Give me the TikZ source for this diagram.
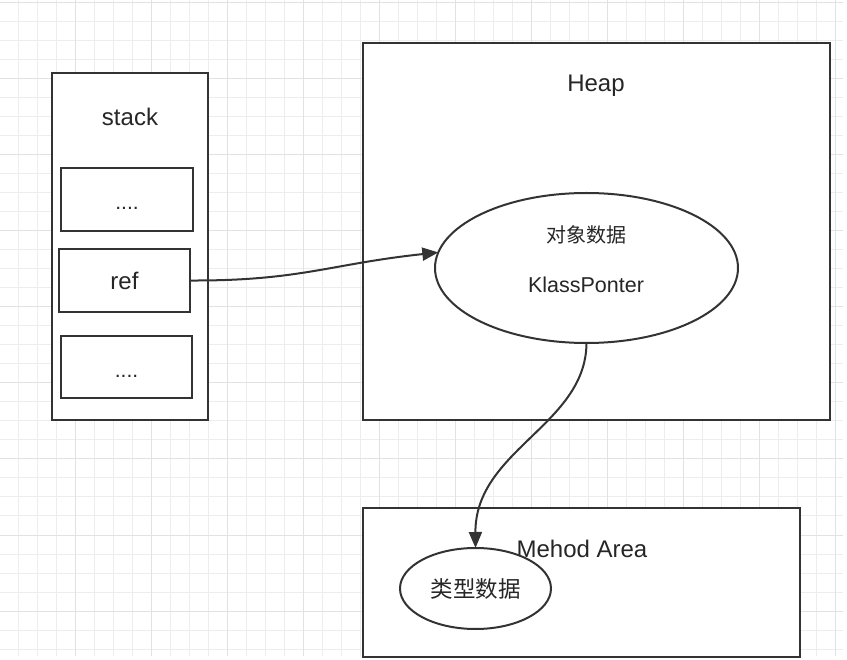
\documentclass[tikz,border=0pt]{standalone}
\usepackage{fontspec}
\setmainfont{Liberation Sans}
\newfontfamily\cjk{Noto Sans CJK SC}
\usetikzlibrary{shapes.geometric,arrows.meta}
\definecolor{ink}{HTML}{333333}
\definecolor{txt}{HTML}{262626}
\definecolor{gridminor}{HTML}{EDEDED}
\definecolor{gridmajor}{HTML}{E2E2E2}
\tikzset{
  box/.style={draw=ink, line width=2.5pt, fill=white, inner sep=0pt, outer sep=0pt},
  oval/.style={ellipse, draw=ink, line width=2pt, fill=white, inner sep=0pt, outer sep=0pt},
  lbl/.style={text=txt, inner sep=0pt, font=\fontsize{24}{28}\selectfont},
  conn/.style={draw=ink, line width=2pt, -{Triangle[length=16pt,width=13pt]}},
}
\begin{document}
\begin{tikzpicture}[x=1pt,y=-1pt]
\useasboundingbox (0,0) rectangle (847,660);
\fill[white] (0,0) rectangle (847,660);
% grid
\foreach \i in {0,...,44} {
  \pgfmathsetmacro\gx{-1+19*\i}
  \draw[gridminor, line width=1pt] (\gx,0) -- (\gx,656);
}
\foreach \i in {0,...,34} {
  \pgfmathsetmacro\gy{3+19*\i}
  \draw[gridminor, line width=1pt] (0,\gy) -- (843,\gy);
}
\foreach \i in {0,...,11} {
  \pgfmathsetmacro\gx{-1+76*\i}
  \draw[gridmajor, line width=1pt] (\gx,0) -- (\gx,656);
}
\foreach \i in {0,...,8} {
  \pgfmathsetmacro\gy{3+76*\i}
  \draw[gridmajor, line width=1pt] (0,\gy) -- (843,\gy);
}
% stack
\node[box, minimum width=156pt, minimum height=347pt] (stack) at (130,246.5) {};
\node[lbl] (stacklbl) at (130,117) {stack};
\node[box, minimum width=132pt, minimum height=63pt] (s1) at (127,199.5) {};
\node[lbl, font=\fontsize{21}{24}\selectfont] (d1) at (127,208) {....};
\node[box, minimum width=131pt, minimum height=63pt, lbl] (ref) at (124.5,280.5) {ref};
\node[box, minimum width=131pt, minimum height=62pt] (s3) at (126.5,367) {};
\node[lbl, font=\fontsize{21}{24}\selectfont] (d3) at (126.5,376) {....};
% heap
\node[box, minimum width=467pt, minimum height=377pt] (heap) at (596.5,231.5) {};
\node[lbl] (heaplbl) at (596,86) {Heap};
\node[oval, minimum width=303pt, minimum height=150pt] (obj) at (586.5,268) {};
\node[lbl, font=\cjk\fontsize{20}{24}\selectfont] (objdata) at (586,235) {对象数据};
\node[lbl, font=\fontsize{21.5}{24}\selectfont] (klass) at (586,285) {KlassPonter};
% method area
\node[box, minimum width=437pt, minimum height=149pt] (method) at (581.5,582.5) {};
\node[lbl] (methodlbl) at (582,549) {Mehod Area};
\node[oval, minimum width=151pt, minimum height=81pt, lbl, font=\cjk\fontsize{22.5}{26}\selectfont] (type) at (475.5,588.5) {类型数据};
% connectors
\coordinate (objw) at (obj.174);
\draw[conn] (ref.east) .. controls (300,281) and (330,264) .. (objw);
\draw[conn] (obj.south) .. controls (586,425) and (475,450) .. (type.north);
\end{tikzpicture}
\end{document}
